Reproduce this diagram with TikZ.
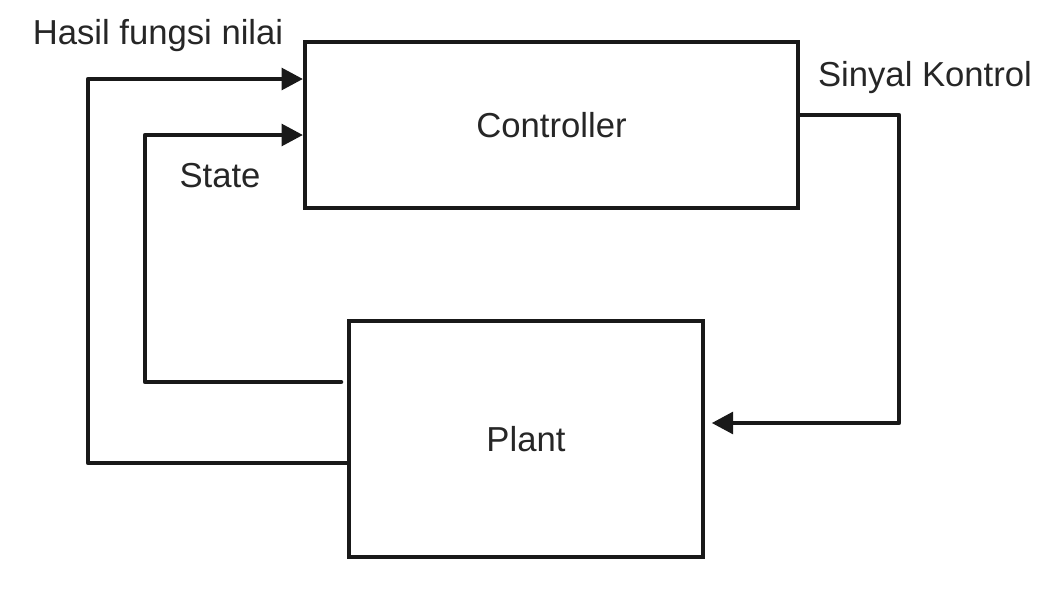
\documentclass[tikz,border=0pt]{standalone}
\usepackage{fontspec}
\setmainfont{Liberation Sans}
\usetikzlibrary{arrows.meta}

\begin{document}
\begin{tikzpicture}[
			x=0.75pt,y=-0.75pt,
			blok/.style={draw=black!90,line width=3pt,inner sep=0pt,text=black!85,
				font=\fontsize{26}{30}\selectfont},
			sig/.style={draw=black!90,line width=3.4pt,line join=round,line cap=round},
			sigarr/.style={sig,-{Triangle[length=16pt,width=16pt]}},
			lbl/.style={text=black!85,font=\fontsize{26}{30}\selectfont}]
			\useasboundingbox (0,0) rectangle (1057,607);
			\node[blok,minimum width=369.75pt,minimum height=124.5pt] (ctrl) at (551.5,125) {Controller};
			\node[blok,minimum width=265.5pt,minimum height=177pt] (plant) at (526,439) {Plant};
			\coordinate (kiri1) at (88,79);
			\coordinate (kiri2) at (145,135);
			\coordinate (kanan) at (899,423);
			\draw[sigarr] ([yshift=-18pt]plant.west) -| (kiri1) -- ([yshift=34.5pt]ctrl.west);
			\draw[sigarr] ([xshift=-4.5pt,yshift=42.75pt]plant.west) -| (kiri2) -- ([yshift=-7.5pt]ctrl.west);
			\draw[sigarr] ([yshift=7.5pt]ctrl.east) -| (kanan) -- ([xshift=5pt,yshift=12pt]plant.east);
			\node[lbl] (hasil) at (158,36) {Hasil fungsi nilai};
			\node[lbl] (state) at (220,176) {State};
			\node[lbl] (sinyal) at (925,78) {Sinyal Kontrol};
		\end{tikzpicture}
\end{document}
